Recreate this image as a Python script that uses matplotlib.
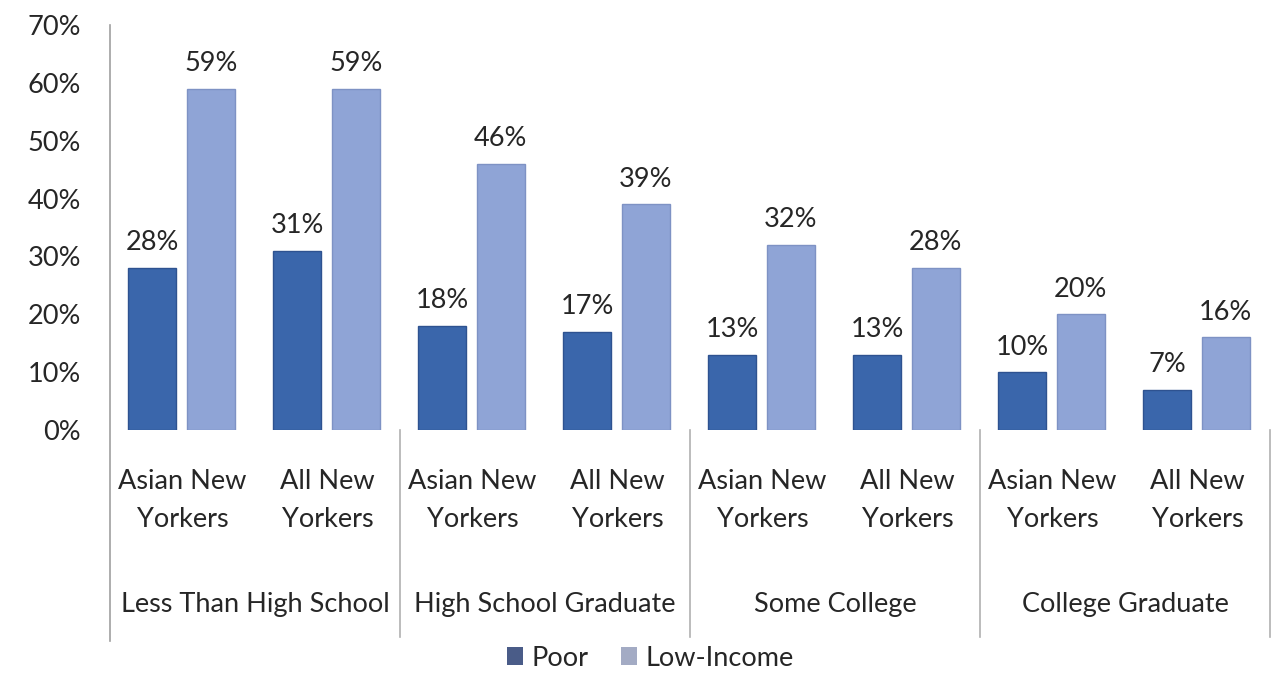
import matplotlib.pyplot as plt
from matplotlib.patches import Patch

# Share of adults in poverty / low income by education level
categories = ['Less Than High School', 'High School Graduate', 'Some College', 'College Graduate']
groups = ['Asian New\nYorkers', 'All New\nYorkers']
poor = [28, 31, 18, 17, 13, 13, 10, 7]
low_income = [59, 59, 46, 39, 32, 28, 20, 16]

plt.rcParams['font.family'] = ['Lato', 'DejaVu Sans']
text_color = '#262626'
poor_color = '#3a66ab'
low_color = '#8fa4d6'
fs = 19.5

fig = plt.figure(figsize=(12.75, 6.92), dpi=100)
ax = fig.add_axes([110 / 1275, 1 - 430 / 692, 1160 / 1275, 405 / 692])

x = list(range(len(poor)))
w = 0.33
b1 = ax.bar([i - 0.21 for i in x], poor, width=w, color=poor_color, edgecolor='#2e5290', linewidth=1)
b2 = ax.bar([i + 0.195 for i in x], low_income, width=w, color=low_color, edgecolor='#7e92c4', linewidth=1)

# value labels on top of each bar
for bars, vals in ((b1, poor), (b2, low_income)):
    for r, v in zip(bars, vals):
        ax.annotate(f'{v}%', (r.get_x() + r.get_width() / 2, v), xytext=(0, 9),
                    textcoords='offset points', ha='center', va='bottom',
                    fontsize=fs, color=text_color)

ax.set_xlim(-0.5, len(poor) - 0.5)
ax.set_ylim(0, 70)
ax.set_yticks(range(0, 71, 10))
ax.set_yticklabels([f'{t}%' for t in range(0, 71, 10)], fontsize=fs, color=text_color)
ax.tick_params(axis='y', length=0, pad=21)
ax.set_xticks([])
for s in ax.spines.values():
    s.set_visible(False)

# axis line and group separators below the plot
trans = ax.get_xaxis_transform()
ax.plot([-0.5, -0.5], [1.0, -0.52], transform=trans, color='#a0a0a0', lw=1.2, clip_on=False)
for k in range(1, len(categories) + 1):
    xs = k * 2 - 0.5
    ax.plot([xs, xs], [0, -0.51], transform=trans, color='#b0b0b0', lw=1.2, clip_on=False)

for i in x:
    ax.text(i, -0.173, groups[i % 2], transform=trans, ha='center', va='center',
            fontsize=fs, color=text_color, linespacing=1.65)
for k, name in enumerate(categories):
    ax.text(2 * k + 0.5, -0.432, name, transform=trans, ha='center', va='center',
            fontsize=fs, color=text_color)

handles = [Patch(facecolor='#4a5c88', label='Poor'), Patch(facecolor='#a3abc4', label='Low-Income')]
fig.legend(handles=handles, loc='center', bbox_to_anchor=(0.51, 1 - 658 / 692), ncol=2,
           frameon=False, fontsize=fs, handlelength=0.6, handleheight=0.6,
           handletextpad=0.3, columnspacing=1.2, labelcolor=text_color)

fig.savefig('out.png', dpi=100)
